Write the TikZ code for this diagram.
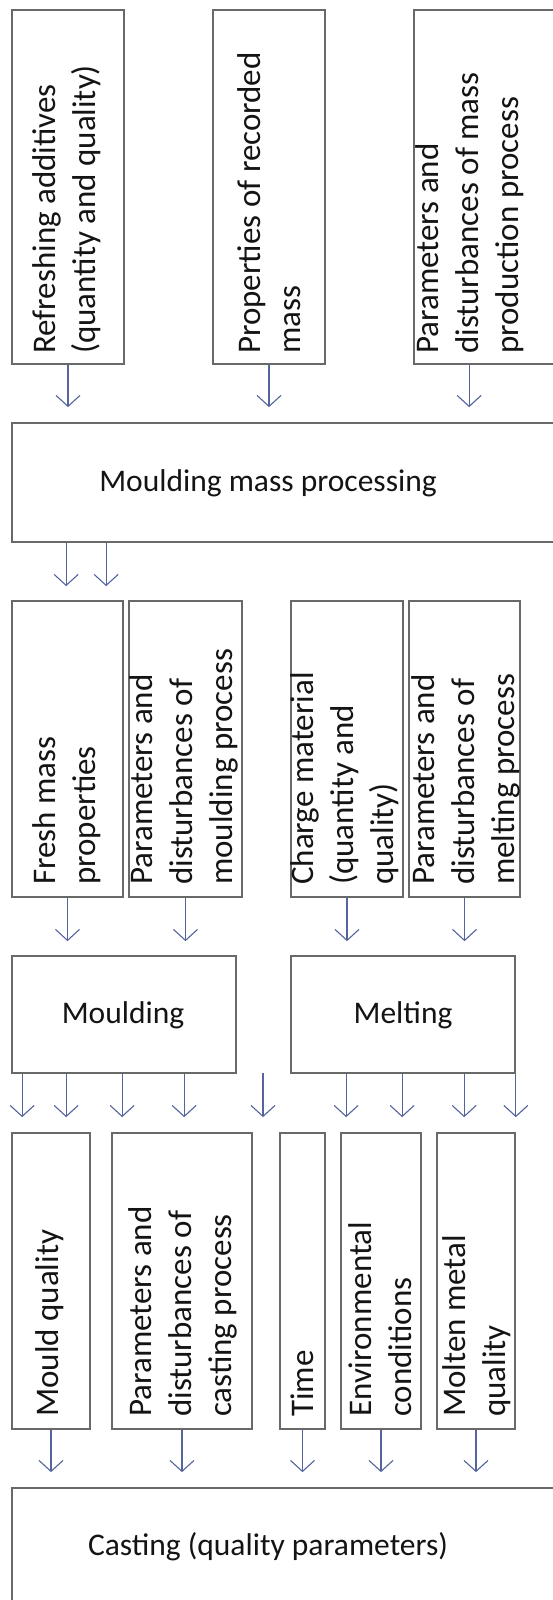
\documentclass[tikz,border=0pt]{standalone}
\usepackage{fontspec}
\setmainfont{Carlito}
\usetikzlibrary{arrows.meta,calc}
\definecolor{boxgray}{RGB}{105,105,105}
\definecolor{arrblue}{RGB}{85,100,158}
\definecolor{txt}{RGB}{20,20,20}
\tikzset{
  box/.style={draw=boxgray, line width=1.7pt, inner sep=0pt, fill=none},
  lbl/.style={rotate=90, anchor=west, align=left, inner sep=0pt, text=txt,
    font=\fontsize{33}{40}\selectfont},
  hlbl/.style={inner sep=0pt, text=txt, font=\fontsize{31.5}{40}\selectfont},
  arr/.style={draw=arrblue, line width=1.2pt,
    -{Straight Barb[length=11pt,width=24pt,line width=1.1pt]}}
}
\begin{document}
\begin{tikzpicture}[x=1pt,y=1pt]
\useasboundingbox (0,0) rectangle (553,-1600);
\clip (0,0) rectangle (553,-1600);
\fill[white] (0,0) rectangle (553,-1600);

% Row 1
\node[box, minimum width=112, minimum height=354] (r1a) at (68,-187) {};
\node[box, minimum width=112, minimum height=354] (r1b) at (269,-187) {};
\node[box, minimum width=186, minimum height=354] (r1c) at (507,-187) {};
\node[lbl] (t1a) at (67,-354) {Refreshing additives\\(quantity and quality)};
\node[lbl] (t1b) at (269,-354) {Properties of recorded\\mass};
\node[lbl] (t1c) at (470,-354) {Parameters and\\disturbances of mass\\production process};

% Moulding mass processing
\node[box, minimum width=588, minimum height=119] (mmp) at (306,-482.5) {};
\node[hlbl] (tmmp) at (268,-483) {Moulding mass processing};

% Row 2
\node[box, minimum width=111, minimum height=296] (r2a) at (67.5,-749) {};
\node[box, minimum width=113, minimum height=296] (r2b) at (185.5,-749) {};
\node[box, minimum width=112, minimum height=296] (r2c) at (347,-749) {};
\node[box, minimum width=111, minimum height=296] (r2d) at (464.5,-749) {};
\node[lbl] (t2a) at (67,-885) {Fresh mass\\properties};
\node[lbl] (t2b) at (184,-885) {Parameters and\\disturbances of\\moulding process};
\node[lbl] (t2c) at (345,-885) {Charge material\\(quantity and\\quality)};
\node[lbl] (t2d) at (466,-885) {Parameters and\\disturbances of\\melting process};

% Moulding / Melting
\node[box, minimum width=224, minimum height=117] (mould) at (124,-1014.5) {};
\node[box, minimum width=224, minimum height=117] (melt) at (403,-1014.5) {};
\node[hlbl] (tmould) at (123,-1015) {Moulding};
\node[hlbl] (tmelt) at (403,-1015) {Melting};

% Row 3
\node[box, minimum width=78, minimum height=296] (c1) at (51,-1281) {};
\node[box, minimum width=140, minimum height=296] (c2) at (182,-1281) {};
\node[box, minimum width=45, minimum height=296] (c3) at (302.5,-1281) {};
\node[box, minimum width=80, minimum height=296] (c4) at (381,-1281) {};
\node[box, minimum width=78, minimum height=296] (c5) at (476,-1281) {};
\node[lbl] (t3a) at (50,-1417) {Mould quality};
\node[lbl] (t3b) at (183,-1417) {Parameters and\\disturbances of\\casting process};
\node[lbl] (t3c) at (302,-1417) {Time};
\node[lbl] (t3d) at (380,-1417) {Environmental\\conditions};
\node[lbl] (t3e) at (477,-1417) {Molten metal\\quality};

% Casting
\node[box, minimum width=588, minimum height=162] (cast) at (306,-1569) {};
\node[hlbl] (tcast) at (268,-1547) {Casting (quality parameters)};

% Arrows row 1 -> mmp
\draw[arr] (r1a.south) -- ($(r1a.south |- mmp.north)+(0,15)$);
\draw[arr] (r1b.south) -- ($(r1b.south |- mmp.north)+(0,15)$);
\coordinate (s1c) at ($(r1c.south west)+(56,0)$);
\draw[arr] (s1c) -- ($(s1c |- mmp.north)+(0,15)$);

% mmp -> row 2
\coordinate (m1) at ($(mmp.south west)+(55,0)$);
\coordinate (m2) at ($(mmp.south west)+(95,0)$);
\draw[arr] (m1) -- ($(m1 |- r2a.north)+(0,14)$);
\draw[arr] (m2) -- ($(m2 |- r2a.north)+(0,14)$);

% row 2 -> moulding / melting
\draw[arr] (r2a.south) -- ($(r2a.south |- mould.north)+(0,14)$);
\draw[arr] (r2b.south) -- ($(r2b.south |- mould.north)+(0,14)$);
\draw[arr] (r2c.south) -- ($(r2c.south |- melt.north)+(0,14)$);
\draw[arr] (r2d.south) -- ($(r2d.south |- melt.north)+(0,14)$);

% moulding -> row 3
\coordinate (d1) at ($(mould.south west)+(11,0)$);
\coordinate (d2) at ($(mould.south west)+(55,0)$);
\coordinate (d3) at ($(mould.south west)+(111,0)$);
\coordinate (d4) at ($(mould.south west)+(173,0)$);
\coordinate (d5) at (263,-1073);
\draw[arr] (d1) -- ($(d1 |- c1.north)+(0,15)$);
\draw[arr] (d2) -- ($(d2 |- c1.north)+(0,15)$);
\draw[arr] (d3) -- ($(d3 |- c2.north)+(0,15)$);
\draw[arr] (d4) -- ($(d4 |- c2.north)+(0,15)$);
\draw[arr] (d5) -- ($(d5 |- c3.north)+(0,15)$);

% melting -> row 3
\coordinate (e1) at ($(melt.south west)+(56,0)$);
\coordinate (e2) at ($(melt.south west)+(112,0)$);
\coordinate (e3) at ($(melt.south west)+(174,0)$);
\coordinate (e4) at (melt.south east);
\draw[arr] (e1) -- ($(e1 |- c4.north)+(0,15)$);
\draw[arr] (e2) -- ($(e2 |- c4.north)+(0,15)$);
\draw[arr] (e3) -- ($(e3 |- c5.north)+(0,15)$);
\draw[arr] (e4) -- ($(e4 |- c5.north)+(0,15)$);

% row 3 -> casting
\draw[arr] (c1.south) -- ($(c1.south |- cast.north)+(0,15)$);
\draw[arr] (c2.south) -- ($(c2.south |- cast.north)+(0,15)$);
\draw[arr] (c3.south) -- ($(c3.south |- cast.north)+(0,15)$);
\draw[arr] (c4.south) -- ($(c4.south |- cast.north)+(0,15)$);
\draw[arr] (c5.south) -- ($(c5.south |- cast.north)+(0,15)$);
\end{tikzpicture}
\end{document}
